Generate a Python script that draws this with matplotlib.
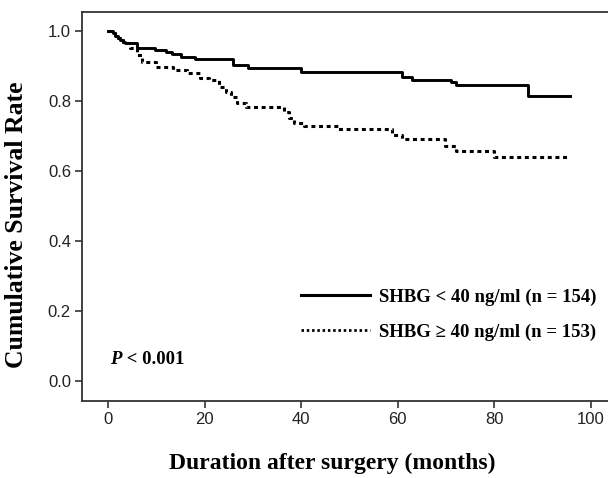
import matplotlib.pyplot as plt
from matplotlib.lines import Line2D

# Kaplan-Meier step curves (months, survival)
low_t = [0, 1, 1.5, 2, 2.5, 3, 3.5, 6, 9.8, 11.9, 13.3, 15, 18, 25.8, 29, 40,
         60.8, 63, 71, 72, 87, 95.8]
low_s = [1.0, 0.994, 0.986, 0.98, 0.974, 0.969, 0.966, 0.951, 0.946, 0.94,
         0.934, 0.926, 0.92, 0.903, 0.894, 0.883, 0.869, 0.86, 0.854, 0.846,
         0.814, 0.814]

high_t = [0, 1, 1.5, 2, 2.5, 3, 3.5, 4.5, 6, 7, 10, 13.5, 16.4, 19, 21, 23,
          24.4, 25.4, 26.8, 28.5, 36.5, 37.5, 38.5, 40.6, 47.7, 58.8, 60.8,
          69.8, 72, 80, 95.2]
high_s = [1.0, 0.994, 0.986, 0.98, 0.974, 0.969, 0.966, 0.951, 0.931, 0.911,
          0.897, 0.889, 0.88, 0.866, 0.86, 0.84, 0.826, 0.811, 0.794, 0.783,
          0.769, 0.751, 0.737, 0.729, 0.72, 0.703, 0.691, 0.671, 0.657, 0.64,
          0.64]

labels = ["SHBG < 40 ng/ml (n = 154)", "SHBG \u2265 40 ng/ml (n = 153)"]
x_ticks = [0, 20, 40, 60, 80, 100]
y_ticks = [0.0, 0.2, 0.4, 0.6, 0.8, 1.0]

serif = "Liberation Serif"
sans = "Liberation Sans"

fig = plt.figure(figsize=(6.08, 4.78), dpi=100)
ax = fig.add_axes([0.135, 0.161, 0.87, 0.814])

ax.step(low_t, low_s, where="post", color="black", lw=2.1)
ax.step(high_t, high_s, where="post", color="black", lw=2.2,
        linestyle=(0, (1.3, 1.2)))

ax.set_xlim(-5.4, 104.2)
ax.set_ylim(-0.057, 1.054)
ax.set_xticks(x_ticks)
ax.set_yticks(y_ticks)
ax.set_xticklabels([str(v) for v in x_ticks], fontfamily=sans, fontsize=12)
ax.set_yticklabels([f"{v:.1f}" for v in y_ticks], fontfamily=sans, fontsize=12)
ax.tick_params(direction="out", length=5, width=1.2, color="#333333",
               labelcolor="#222222", pad=3)
for side in ["left", "bottom", "top"]:
    ax.spines[side].set_color("#333333")
    ax.spines[side].set_linewidth(1.3)
ax.spines["right"].set_visible(False)

ax.set_xlabel("Duration after surgery (months)", fontfamily=serif,
              fontweight="bold", fontsize=17)
ax.set_ylabel("Cumulative Survival Rate", fontfamily=serif,
              fontweight="bold", fontsize=18.5)
ax.xaxis.set_label_coords(0.473, -0.133)
ax.yaxis.set_label_coords(-0.103, 0.452)

handles = [Line2D([], [], color="black", lw=2.2),
           Line2D([], [], color="black", lw=2.0, linestyle=(0, (0.9, 1.0)))]
ax.legend(handles, labels, loc="center left", bbox_to_anchor=(0.414, 0.222),
          frameon=False, handlelength=3.7, handletextpad=0.43,
          labelspacing=0.95, borderpad=0, borderaxespad=0,
          prop={"family": serif, "weight": "bold", "size": 13.5})

p = ax.text(0.4, 0.063, "P", fontfamily=serif, fontweight="bold",
            fontstyle="italic", fontsize=13.5, va="center")
ax.annotate(" < 0.001", xy=(1, 0), xycoords=p, va="bottom",
            fontfamily=serif, fontweight="bold", fontsize=13.5)

fig.savefig("out.png", dpi=100)
